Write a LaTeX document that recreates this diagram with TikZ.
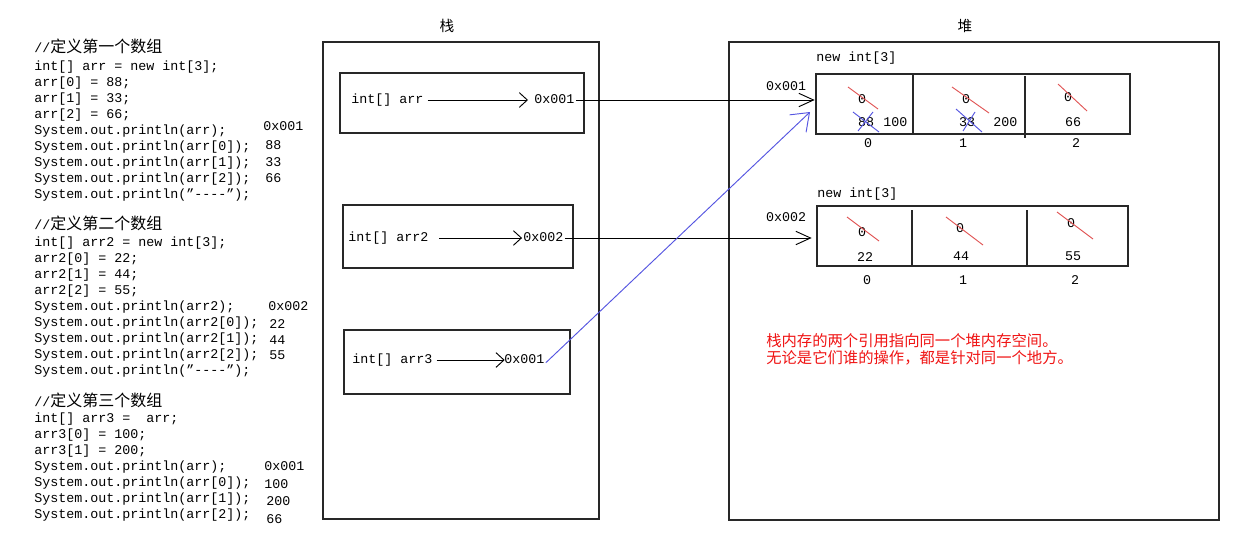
\documentclass[tikz,border=0pt]{standalone}
\usepackage{fontspec}
\usetikzlibrary{arrows.meta}
\newfontfamily\codefont{Liberation Mono}
\newfontfamily\cjkfont{Noto Sans CJK SC}
\newcommand{\cnt}[1]{{\cjkfont\fontsize{12}{14}\selectfont #1}}
\definecolor{strike}{RGB}{225,85,85}
\definecolor{pen}{RGB}{85,85,225}
\definecolor{note}{RGB}{240,20,20}
\definecolor{edge}{RGB}{40,40,40}
\begin{document}
\begin{tikzpicture}[x=0.75pt,y=-0.75pt,
  code/.style={font=\codefont\fontsize{10}{12}\selectfont, anchor=west, inner sep=0pt, text height=7pt, text depth=2pt},
  cell/.style={font=\codefont\fontsize{10}{12}\selectfont, inner sep=0pt, text height=7pt, text depth=2pt},
  title/.style={font=\cjkfont\fontsize{11}{13}\selectfont, inner sep=0pt},
  notetext/.style={font=\cjkfont\fontsize{11.5}{14}\selectfont, text=note, anchor=west, inner sep=0pt},
  frame/.style={draw=edge, line width=0.9pt, inner sep=0pt, outer sep=0pt},
  ptr/.style={draw=black, line width=0.7pt, -{Straight Barb[length=6pt,width=11pt,line width=0.7pt]}},
  heapptr/.style={draw=black, line width=0.7pt, -{Straight Barb[length=11pt,width=10pt,line width=0.7pt]}},
  shared/.style={draw=pen, line width=0.7pt, -{Straight Barb[length=12pt,width=18pt,line width=0.7pt]}},
  cross/.style={draw=strike, line width=0.7pt},
  xmark/.style={draw=pen, line width=0.7pt}
]
\useasboundingbox (0,0) rectangle (1259,551);
\fill[white] (0,0) rectangle (1259,551);

% ---------- code listing ----------
\node[code] (a1) at (34,49) {//\cnt{定义第一个数组}};
\node[code] (a2) at (34,67) {int[] arr = new int[3];};
\node[code] (a3) at (34,83) {arr[0] = 88;};
\node[code] (a4) at (34,99) {arr[1] = 33;};
\node[code] (a5) at (34,115) {arr[2] = 66;};
\node[code] (a6) at (34,131) {System.out.println(arr);};
\node[code] (a7) at (34,147) {System.out.println(arr[0]);};
\node[code] (a8) at (34,163) {System.out.println(arr[1]);};
\node[code] (a9) at (34,179) {System.out.println(arr[2]);};
\node[code] (a10) at (34,195) {System.out.println(”-\kern0pt-\kern0pt-\kern0pt-”);};
\node[code] (o1) at (263,127) {0x001};
\node[code] (o2) at (265,146) {88};
\node[code] (o3) at (265,163) {33};
\node[code] (o4) at (265,179) {66};

\node[code] (b1) at (34,226) {//\cnt{定义第二个数组}};
\node[code] (b2) at (34,243) {int[] arr2 = new int[3];};
\node[code] (b3) at (34,259) {arr2[0] = 22;};
\node[code] (b4) at (34,275) {arr2[1] = 44;};
\node[code] (b5) at (34,291) {arr2[2] = 55;};
\node[code] (b6) at (34,307) {System.out.println(arr2);};
\node[code] (b7) at (34,323) {System.out.println(arr2[0]);};
\node[code] (b8) at (34,339) {System.out.println(arr2[1]);};
\node[code] (b9) at (34,355) {System.out.println(arr2[2]);};
\node[code] (b10) at (34,371) {System.out.println(”-\kern0pt-\kern0pt-\kern0pt-”);};
\node[code] (q1) at (268,307) {0x002};
\node[code] (q2) at (269,325) {22};
\node[code] (q3) at (269,341) {44};
\node[code] (q4) at (269,356) {55};

\node[code] (d1) at (34,403) {//\cnt{定义第三个数组}};
\node[code] (d2) at (34,419) {int[] arr3 =\ \ arr;};
\node[code] (d3) at (34,435) {arr3[0] = 100;};
\node[code] (d4) at (34,451) {arr3[1] = 200;};
\node[code] (d5) at (34,467) {System.out.println(arr);};
\node[code] (d6) at (34,483) {System.out.println(arr[0]);};
\node[code] (d7) at (34,499) {System.out.println(arr[1]);};
\node[code] (d8) at (34,515) {System.out.println(arr[2]);};
\node[code] (r1) at (264,467) {0x001};
\node[code] (r2) at (264,485) {100};
\node[code] (r3) at (266,502) {200};
\node[code] (r4) at (266,520) {66};

% ---------- stack ----------
\node[title] (ts) at (447,26) {栈};
\node[frame, minimum width=207pt, minimum height=357.75pt] (stack) at (461,280.5) {};
\node[frame, minimum width=183pt, minimum height=45pt] (s1) at (462,103) {};
\node[frame, minimum width=172.5pt, minimum height=47.25pt] (s2) at (458,236.5) {};
\node[frame, minimum width=169.5pt, minimum height=48pt] (s3) at (457,362) {};

\node[code] (v1) at (351,100) {int[] arr};
\node[code] (p1) at (534,100) {0x001};
\node[code] (v2) at (348,238) {int[] arr2};
\node[code] (p2) at (523,238) {0x002};
\node[code] (v3) at (352,360) {int[] arr3};
\node[code] (p3) at (504,360) {0x001};

\draw[ptr, shorten <=3pt, shorten >=4.5pt] (v1.east) -- (p1.west);
\draw[ptr, shorten <=8pt, shorten >=0.7pt] (v2.east) -- (p2.west);
\draw[ptr, shorten <=3pt, shorten >=-0.5pt] (v3.east) -- (p3.west);

% ---------- heap ----------
\node[title] (th) at (965,26) {堆};
\node[frame, minimum width=367.5pt, minimum height=358.5pt] (heap) at (974,281) {};

\node[code] (n1) at (816,58) {new int[3]};
\node[cell] (ad1) at (786,87) {0x001};
\node[frame, minimum width=235.5pt, minimum height=45pt] (h1) at (973,104) {};
\draw[edge, line width=0.9pt] (913,74) -- (913,134);
\draw[edge, line width=0.9pt] (1025,76) -- (1025,138);

\node[cell] (c10) at (862,100) {0};
\node[cell] (c11) at (866,123) {88};
\node[cell, anchor=west] (c12) at (883,123) {100};
\node[cell] (c20) at (966,100) {0};
\node[cell] (c21) at (967,123) {33};
\node[cell, anchor=west] (c22) at (993,123) {200};
\node[cell] (c30) at (1068,98) {0};
\node[cell] (c31) at (1073,123) {66};
\draw[cross] (848,87) -- (878,109);
\draw[cross] (952,87) -- (989,113);
\draw[cross] (1058,84) -- (1087,111);
\draw[xmark] (853,112) -- (879,132);
\draw[xmark] (858,131) -- (873,112);
\draw[xmark] (956,109) -- (982,132);
\draw[xmark] (963,131) -- (975,112);
\node[cell] (i10) at (868,144) {0};
\node[cell] (i11) at (963,144) {1};
\node[cell] (i12) at (1076,144) {2};

\node[code] (n2) at (817,194) {new int[3]};
\node[cell] (ad2) at (786,218) {0x002};
\node[frame, minimum width=233.25pt, minimum height=45pt] (h2) at (972.5,236) {};
\draw[edge, line width=0.9pt] (912,210) -- (912,266);
\draw[edge, line width=0.9pt] (1027,210) -- (1027,266);

\node[cell] (e10) at (862,233) {0};
\node[cell] (e11) at (865,258) {22};
\node[cell] (e20) at (960,229) {0};
\node[cell] (e21) at (961,257) {44};
\node[cell] (e30) at (1071,224) {0};
\node[cell] (e31) at (1073,257) {55};
\draw[cross] (847,217) -- (879,241);
\draw[cross] (946,217) -- (983,245);
\draw[cross] (1057,212) -- (1093,239);
\node[cell] (i20) at (867,281) {0};
\node[cell] (i21) at (963,281) {1};
\node[cell] (i22) at (1075,281) {2};

\node[notetext] (m1) at (766,341) {栈内存的两个引用指向同一个堆内存空间。};
\node[notetext] (m2) at (766,358) {无论是它们谁的操作，都是针对同一个地方。};

% ---------- references ----------
\coordinate (bt) at (810,112);
\draw[heapptr, shorten <=1pt, shorten >=1pt] (p1.east) -- (p1.east -| h1.west);
\draw[heapptr, shorten <=1pt, shorten >=4pt] (p2.east) -- (p2.east -| h2.west);
\draw[shared] ([xshift=1pt,yshift=-2pt]p3.east) -- (bt);
\end{tikzpicture}
\end{document}
